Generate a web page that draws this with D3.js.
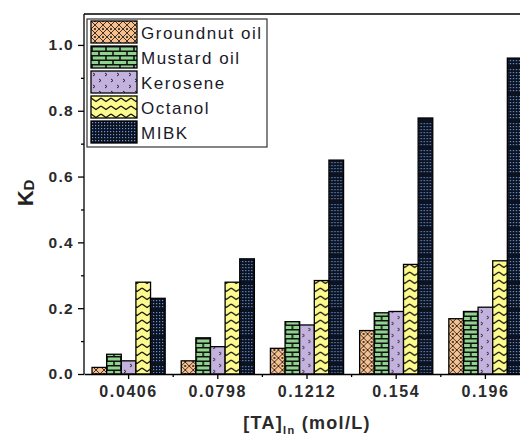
<!DOCTYPE html>
<html>
<head>
<meta charset="utf-8">
<script src="https://cdn.jsdelivr.net/npm/d3@7"></script>
<style>
  body { margin: 0; background: #fff; }
  svg { font-family: "Liberation Sans", Arial, sans-serif; }
  .tick text { font-weight: bold; fill: #2a2a2a; }
  .axis path, .axis line { stroke: #000; stroke-width: 1.3; }
</style>
</head>
<body>
<svg id="chart" width="520" height="443"></svg>
<script>
const categories = ["0.0406", "0.0798", "0.1212", "0.154", "0.196"];
const seriesNames = ["Groundnut oil", "Mustard oil", "Kerosene", "Octanol", "MIBK"];
const groundnut = [0.02, 0.04, 0.078, 0.132, 0.168];
const mustard   = [0.06, 0.11, 0.159, 0.186, 0.19];
const kerosene  = [0.04, 0.083, 0.149, 0.19, 0.203];
const octanol   = [0.279, 0.279, 0.284, 0.333, 0.344];
const mibk      = [0.23, 0.35, 0.65, 0.778, 0.96];
const yTicks = [0, 0.2, 0.4, 0.6, 0.8, 1.0];

const series = [groundnut, mustard, kerosene, octanol, mibk];
const patternIds = ["pGround", "pMustard", "pKero", "pOct", "pMibk"];

const margin = {top: 14, left: 84};
const plotW = 446, plotH = 360;

const svg = d3.select("#chart");
const defs = svg.append("defs");

// Groundnut: orange with diamond lattice
let p = defs.append("pattern").attr("id", "pGround").attr("patternUnits", "userSpaceOnUse")
  .attr("width", 8).attr("height", 8);
p.append("rect").attr("width", 8).attr("height", 8).attr("fill", "#f8bf8c");
p.append("path").attr("d", "M0,0L8,8M8,0L0,8").attr("stroke", "#222").attr("stroke-width", 0.9);
p.append("circle").attr("cx", 4).attr("cy", 0).attr("r", 0.9).attr("fill", "#000");
p.append("circle").attr("cx", 4).attr("cy", 8).attr("r", 0.9).attr("fill", "#000");

// Mustard: green bricks
p = defs.append("pattern").attr("id", "pMustard").attr("patternUnits", "userSpaceOnUse")
  .attr("width", 14).attr("height", 9);
p.append("rect").attr("width", 14).attr("height", 9).attr("fill", "#8fd48e");
p.append("path").attr("d", "M0,0.75H14M0,5.25H14M1,0V5.25M8,5.25V9")
  .attr("stroke", "#111").attr("stroke-width", 1.6);

// Kerosene: lavender with small chevrons
p = defs.append("pattern").attr("id", "pKero").attr("patternUnits", "userSpaceOnUse")
  .attr("width", 12).attr("height", 12);
p.append("rect").attr("width", 12).attr("height", 12).attr("fill", "#c2b2dd");
p.append("path").attr("d", "M2,2L4,3.5L2,5M8,8L10,9.5L8,11")
  .attr("stroke", "#222").attr("stroke-width", 1).attr("fill", "none");

// Octanol: yellow with zigzag lines
p = defs.append("pattern").attr("id", "pOct").attr("patternUnits", "userSpaceOnUse")
  .attr("width", 10).attr("height", 8);
p.append("rect").attr("width", 10).attr("height", 8).attr("fill", "#fdfb8e");
p.append("path").attr("d", "M0,2L5,5.5L10,2").attr("stroke", "#111").attr("stroke-width", 1.4).attr("fill", "none");

// MIBK: dark with blue dot grid and darker bands
p = defs.append("pattern").attr("id", "pMibk").attr("patternUnits", "userSpaceOnUse")
  .attr("width", 3).attr("height", 27);
p.append("rect").attr("width", 3).attr("height", 27).attr("fill", "#0c1220");
d3.range(8).forEach(r => {
  p.append("rect").attr("x", 1).attr("y", 1 + r * 3).attr("width", 1.2).attr("height", 1.2).attr("fill", "#6b98d8");
});

const g = svg.append("g").attr("transform", `translate(${margin.left},${margin.top})`);

const x0 = d3.scaleBand().domain(categories).range([0, plotW]).paddingInner(0.18).paddingOuter(0.09);
const x1 = d3.scaleBand().domain(d3.range(series.length)).range([0, x0.bandwidth()]);
const y = d3.scaleLinear().domain([0, 1.094]).range([plotH, 0]);

// bars
categories.forEach((c, ci) => {
  const grp = g.append("g").attr("transform", `translate(${x0(c)},0)`);
  series.forEach((s, si) => {
    grp.append("rect")
      .attr("x", x1(si))
      .attr("width", x1.bandwidth())
      .attr("y", y(s[ci]))
      .attr("height", plotH - y(s[ci]))
      .attr("fill", `url(#${patternIds[si]})`)
      .attr("stroke", "#000").attr("stroke-width", 1.3);
  });
});

// frame
g.append("line").attr("x1", 0).attr("x2", plotW).attr("y1", 0).attr("y2", 0)
  .attr("stroke", "#000").attr("stroke-width", 1.3);

// y axis
const yAxis = g.append("g").attr("class", "axis")
  .call(d3.axisLeft(y).tickValues(yTicks).tickFormat(d3.format(".1f")).tickSize(6).tickSizeOuter(0));
yAxis.select(".domain").attr("d", `M0,${plotH}V0`);
yAxis.selectAll(".tick text").attr("x", -10).attr("font-size", 15.5).attr("letter-spacing", 1.3);
g.append("g").attr("class", "axis")
  .call(d3.axisLeft(y).tickValues([0.1, 0.3, 0.5, 0.7, 0.9]).tickFormat("").tickSize(3).tickSizeOuter(0))
  .select(".domain").remove();

// x axis
const xAxis = g.append("g").attr("class", "axis").attr("transform", `translate(0,${plotH})`)
  .call(d3.axisBottom(x0).tickSize(5).tickSizeOuter(0).tickPadding(7));
xAxis.selectAll(".tick text").attr("font-size", 16).attr("letter-spacing", 1.6);
const step = x0.step();
const minor = d3.scaleLinear().domain([0, 1]).range([0, step]);
g.append("g").attr("class", "axis").attr("transform", `translate(0,${plotH})`)
  .selectAll("line").data(d3.range(1, categories.length)).join("line")
  .attr("x1", d => minor(d)).attr("x2", d => minor(d)).attr("y1", 0).attr("y2", 3);

// axis titles
const kd = svg.append("text").attr("transform", "translate(33,193) rotate(-90)")
  .attr("text-anchor", "middle").attr("font-weight", "bold").attr("font-size", 22).attr("fill", "#222");
kd.append("tspan").text("K");
kd.append("tspan").attr("font-size", 15).attr("dy", 1).text("D");

const xt = svg.append("text").attr("x", 307).attr("y", 429).attr("text-anchor", "middle")
  .attr("font-weight", "bold").attr("font-size", 18).attr("letter-spacing", 1.3).attr("fill", "#2a2a2a");
xt.append("tspan").text("[TA]");
xt.append("tspan").attr("font-size", 11).attr("dy", 5).text("In");
xt.append("tspan").attr("dy", -5).text(" (mol/L)");

// legend
const lg = svg.append("g").attr("transform", "translate(87,19)");
lg.append("rect").attr("width", 180).attr("height", 128).attr("fill", "#fff")
  .attr("stroke", "#333").attr("stroke-width", 1.2);
seriesNames.forEach((n, i) => {
  const row = lg.append("g").attr("transform", `translate(4,${2 + i * 25})`);
  row.append("rect").attr("width", 46).attr("height", 22)
    .attr("fill", `url(#${patternIds[i]})`).attr("stroke", "#000").attr("stroke-width", 1.3);
  row.append("text").attr("x", 50).attr("y", 18).attr("font-size", 17)
    .attr("letter-spacing", 1.5).attr("fill", "#1a1a2a").text(n);
});
</script>
</body>
</html>
